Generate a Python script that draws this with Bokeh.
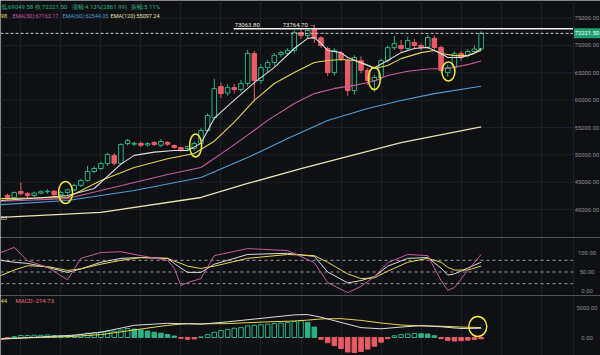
from bokeh.plotting import figure
from bokeh.layouts import column
from bokeh.models import Range1d, Label, Span, Grid, FixedTicker
from bokeh.embed import file_html
from bokeh.resources import INLINE

# ---------------- data ----------------
opens = [42600, 42200, 43300, 42900, 42550, 43000, 43250, 43350, 42700, 43100,
         43600, 44400, 45300, 46950, 47500, 48400, 49900, 48450, 52050, 51950,
         52100, 51800, 52250, 51750, 52300, 51700, 51350, 51150, 51200, 52100,
         54450, 56800, 62500, 61300, 62300, 61950, 63050, 68550, 63600, 65950,
         66900, 68350, 68550, 69100, 72400, 71800, 73100, 71400, 69450, 65050,
         68550, 67250, 61750, 67200, 65450, 63600, 64150, 67250, 69600, 70000,
         69450, 70550, 70000, 69650, 71300, 69650, 65050, 66000, 68550, 68200,
         68900, 69359.51]
closes = [42200, 43100, 42900, 42550, 43000, 43250, 43350, 42700, 43100, 43600,
          44400, 45300, 46950, 47500, 48400, 50050, 48450, 51900, 52600, 52100,
          51750, 52050, 51900, 52450, 51950, 51350, 50800, 51500, 52050, 54450,
          57200, 62100, 61200, 62300, 61950, 63050, 68550, 63600, 65950, 66900,
          68200, 68700, 69100, 72400, 71800, 72750, 71300, 70000, 65050, 69100,
          67600, 61750, 67800, 65450, 63600, 64150, 67250, 69600, 70350, 69450,
          70900, 70000, 69650, 71450, 69650, 65450, 65950, 68500, 67800, 68900,
          69359.51, 72221.50]
highs = [42900, 43300, 44950, 43200, 43300, 43500, 43700, 43500, 43400, 43800,
         44700, 45600, 48000, 47900, 48800, 50400, 50300, 52100, 52900, 52400,
         52400, 52300, 52500, 52900, 52500, 51900, 51500, 51700, 52400, 54900,
         57600, 63900, 63200, 62900, 63000, 63700, 69200, 69000, 66600, 67300,
         68600, 69000, 69500, 72800, 73000, 73100, 73764.70, 71700, 69800, 69500,
         69000, 67600, 68200, 68000, 65900, 64700, 67600, 70000, 71800, 71000,
         71600, 71200, 70400, 71900, 71800, 70000, 66500, 68900, 69000, 69300,
         70000, 72594]
lows = [41800, 41900, 42600, 42100, 42300, 42800, 42900, 42400, 42300, 42800,
        43300, 44100, 45100, 46600, 47200, 48000, 48000, 48200, 51700, 51600,
        51400, 51500, 51600, 51400, 51600, 51100, 50500, 50900, 50800, 52000,
        54200, 56500, 60400, 60800, 61200, 61500, 62500, 59950, 63000, 65200,
        66300, 67900, 68100, 68700, 71200, 71300, 70500, 69600, 64400, 64500,
        67200, 60800, 61000, 64900, 62800, 61500, 63800, 66900, 69200, 68900,
        69000, 69500, 69100, 69300, 69200, 65000, 64300, 65500, 67200, 67800,
        68500, 69049.58]

# moving averages (candle index, value)
ema_fast_i = [-1, 4, 9, 13, 17, 19, 22, 25, 27, 29, 31, 34, 37, 40, 43, 45, 46, 47, 48,
              50, 51, 53, 55, 57, 59, 61, 63, 65, 66, 68, 70, 71]
ema_fast_v = [41650, 42050, 42550, 43850, 48300, 49900, 50500, 50800, 50800, 52100,
              56700, 60000, 63200, 66000, 69450, 71300, 71450, 70400, 69100, 68700,
              67800, 66900, 65950, 67250, 68700, 69450, 69650, 68550, 67800, 67800,
              68550, 69450]
ema15_i = [-1, 4, 9, 14, 19, 24, 28, 31, 34, 37, 40, 43, 46, 48, 50, 52, 54, 55, 57,
           59, 62, 64, 65, 67, 69, 71]
ema15_v = [42000, 42100, 42200, 45300, 47700, 49300, 50250, 52500, 56000, 59950,
           63050, 65050, 66900, 67250, 67450, 67250, 66350, 65800, 66350, 67600,
           68700, 69100, 68550, 68150, 68150, 69100]
ema30_i = [-1, 9, 19, 24, 29, 33, 36, 39, 43, 46, 49, 52, 55, 57, 60, 63, 66, 69, 71]
ema30_v = [41500, 42000, 44950, 46400, 47700, 51000, 53600, 56300, 59400, 61200,
           62150, 62700, 63500, 64500, 65300, 65700, 65800, 66500, 67163.17]
ema60_i = [-1, 9, 19, 29, 36, 42, 48, 54, 59, 64, 71]
ema60_v = [40900, 41650, 43480, 45850, 49500, 53000, 56300, 58480, 59950, 61200, 62544.05]
ema120_i = [-1, 14, 29, 36, 44, 59, 71]
ema120_v = [38550, 39460, 42200, 44760, 47500, 52250, 55097.24]

# KDJ
kdj_i = [-1, 1, 3, 6, 9, 11, 14, 17, 20, 24, 25, 26, 27, 29, 31, 36, 42, 46, 48, 51,
         53, 55, 57, 60, 63, 65, 66, 67, 69, 71]
k_v = [80, 75, 72, 62, 49, 58, 75, 85, 87, 85, 72, 60, 49, 49, 70, 95, 98, 90, 50, 22,
       28, 38, 65, 85, 87, 60, 42, 45, 60, 75]
d_v = [41, 55, 66, 64, 54, 58, 70, 80, 87, 85, 78, 72, 65, 59, 65, 85, 95, 92, 75, 45,
       33, 35, 52, 75, 85, 75, 62, 55, 55, 65]
j_v = [100, 113, 79, 62, 30, 85, 100, 102, 92, 80, 60, 15, 23, 33, 92, 110, 105, 74,
       23, -3, 13, 38, 74, 95, 92, 28, 3, 10, 54, 95]

# MACD
macd_i = [-1, 5, 10, 14, 19, 24, 27, 29, 33, 38, 43, 45, 47, 50, 53, 56, 59, 62, 65,
          68, 71]
dif_v = [-300, 100, 400, 900, 2100, 2450, 2350, 2300, 2700, 3300, 3900, 3950, 3500,
         2600, 1700, 1500, 1800, 2050, 1850, 1550, 1600]
dea_v = [-200, 0, 200, 500, 1300, 2100, 2400, 2350, 2400, 2650, 2850, 3000, 3200,
         3250, 2950, 2500, 2150, 2000, 1950, 1800, 1707]
hist = [-150, 150, 350, 350, 400, 400, 450, 350, 300, 300, 400, 550, 750, 850, 950,
        1100, 1100, 1300, 1550, 1450, 1300, 1100, 900, 750, 500, 250, -150, -300, -250,
        100, 500, 900, 1200, 1400, 1600, 1700, 2000, 2100, 2200, 2300, 2400, 2500,
        2600, 2750, 2900, 2600, 1800, -300, -900, -1400, -1900, -2500, -2600, -2400,
        -2000, -1500, -800, -200, 300, 500, 600, 700, 650, 600, 300, -200, -500, -600,
        -550, -450, -350, -214.73]

main_ticks = [40000, 45000, 50000, 55000, 60000, 65000, 70000, 75000]
kdj_ticks = [0, 50, 100]
kdj_levels = [20, 50, 80]
macd_ticks = [0, 5000]

last_close = 72221.50
level_line = 73063.80
top_high = 73764.70
top_idx = 46
ring_i = [8.7, 28.2, 55.0, 66.1]
ring_p = [43114, 51710, 63964, 65245]
macd_ring_i = [70.5]
macd_ring_v = [1897]

# ---------------- style ----------------
BG = "#0f1014"
GRID = "#1d2027"
GREEN = "#2bb383"
RED = "#ea5b66"
C_FAST = "#dcdcdc"
C_15 = "#e8d44d"
C_30 = "#c65aa6"
C_60 = "#4d9fd6"
C_120 = "#e4e3b0"
TXT = "#8b8f98"
HDR = "#2fb07f"
FONT = "Roboto"
FS = "6px"
AXFS = "5.8px"

W = 600
H1, H2, H3 = 237, 58, 60
XL, XR = -1.05, 88.9
BORDER = 84.85
xr = Range1d(XL, XR)


def base(h, y0, y1):
    p = figure(width=W, height=h, x_range=xr, y_range=Range1d(y0, y1),
               output_backend="svg", toolbar_location=None,
               x_axis_location=None, y_axis_location=None, min_border=0)
    p.background_fill_color = BG
    p.border_fill_color = BG
    p.outline_line_color = None
    p.grid.visible = False
    g = Grid(dimension=0, ticker=FixedTicker(ticks=list(range(2, 81, 6))),
             grid_line_color=GRID, grid_line_width=1)
    p.add_layout(g, "center")
    p.add_layout(Span(location=BORDER, dimension="height", line_color=GRID, line_width=1))
    return p


def right_labels(p, ticks, fmt="{:.2f}"):
    for t in ticks:
        p.add_layout(Label(x=586.5, x_units="screen", y=t, y_units="data",
                           text=fmt.format(t), text_color=TXT, text_font=FONT,
                           text_font_size=AXFS, text_align="center", text_baseline="middle"))


def screen_text(p, h, x, ytop, text, color, size=FS, align="left"):
    p.add_layout(Label(x=x, y=h - ytop, x_units="screen", y_units="screen", text=text,
                       text_color=color, text_font=FONT, text_font_size=size,
                       text_align=align, text_baseline="middle"))


# ---------------- main panel ----------------
p1 = base(H1, 34883, 78230)
p1.segment(x0=[XL] * len(main_ticks), x1=[BORDER] * len(main_ticks),
           y0=main_ticks, y1=main_ticks, line_color=GRID, line_width=1)

idx = list(range(len(closes)))
up = [c >= o for o, c in zip(opens, closes)]
tops = [max(o, c) for o, c in zip(opens, closes)]
bots = [min(o, c) for o, c in zip(opens, closes)]
col = [GREEN if u else RED for u in up]
fill = [BG if u else RED for u in up]
p1.segment(x0=idx, x1=idx, y0=highs, y1=lows, line_color=col, line_width=1)
p1.vbar(x=idx, width=0.68, top=tops, bottom=bots, fill_color=fill, line_color=col,
        line_width=1)

p1.line(ema120_i, ema120_v, line_color=C_120, line_width=1.3)
p1.line(ema60_i, ema60_v, line_color=C_60, line_width=1.1)
p1.line(ema30_i, ema30_v, line_color=C_30, line_width=1.1)
p1.line(ema15_i, ema15_v, line_color=C_15, line_width=1.1)
p1.line(ema_fast_i, ema_fast_v, line_color=C_FAST, line_width=1.1)

# price levels
p1.segment(x0=[33.9], x1=[BORDER], y0=[level_line], y1=[level_line], line_color="#f2f2f2",
           line_width=1.5)
p1.segment(x0=[XL], x1=[BORDER], y0=[last_close], y1=[last_close], line_color="#c8ccd2",
           line_width=1, line_dash="3 2")
p1.add_layout(Label(x=33.9, y=level_line, text=f"{level_line:.2f}", text_color="#e8e8e8",
                    text_font=FONT, text_font_size=FS, text_baseline="bottom",
                    y_offset=2, x_offset=1))
p1.add_layout(Label(x=top_idx, y=top_high, text=f"{top_high:.2f} \u2192", text_color="#e8e8e8",
                    text_font=FONT, text_font_size=FS, text_baseline="middle",
                    text_align="right", x_offset=1))
# current-price tag on the price scale
p1.rect(x=[(BORDER + XR) / 2], y=[last_close], width=[XR - BORDER], height=[10],
        height_units="screen", fill_color="#1f9e72", line_color=None)
p1.add_layout(Label(x=586.5, x_units="screen", y=last_close, text=f"{last_close:.2f}",
                    text_color="#ffffff", text_font=FONT, text_font_size=AXFS,
                    text_baseline="middle", text_align="center"))
p1.ellipse(x=ring_i, y=ring_p, width=[14, 12, 12, 13], height=[22, 23, 22, 19],
           width_units="screen", height_units="screen", fill_color=None,
           line_color="#f3e63c", line_width=1.5)
right_labels(p1, main_ticks)

# header line 1
screen_text(p1, H1, 0, 5.5, "低:69049.58", HDR)
screen_text(p1, H1, 34, 5.5, "收:72221.50", HDR)
screen_text(p1, H1, 71, 5.5, "涨幅:4.13%(2861.99)", HDR)
screen_text(p1, H1, 130, 5.5, "振幅:5.11%", HDR)
# header line 2
screen_text(p1, H1, 0, 15, "98", C_15)
screen_text(p1, H1, 12, 15, "EMA(30):67163.17", C_30, size="5.5px")
screen_text(p1, H1, 62, 15, "EMA(60):62544.05", C_60, size="5.5px")
screen_text(p1, H1, 110, 15, "EMA(120):55097.24", C_120, size="5.5px")
screen_text(p1, H1, 0, 217, "03", "#cfcfcf")

# ---------------- KDJ panel ----------------
p2 = base(H2, -10.3, 138.5)
p2.add_layout(Span(location=138.5, dimension="width", line_color=GRID, line_width=1))
p2.segment(x0=[XL] * 3, x1=[BORDER] * 3, y0=kdj_levels, y1=kdj_levels,
           line_color="#9a9ea6", line_width=1, line_dash="3 3")
p2.line(kdj_i, k_v, line_color=C_FAST, line_width=1)
p2.line(kdj_i, d_v, line_color=C_15, line_width=1)
p2.line(kdj_i, j_v, line_color=C_30, line_width=1)
right_labels(p2, kdj_ticks)

# ---------------- MACD panel ----------------
p3 = base(H3, -3103, 7241)
p3.add_layout(Span(location=7241, dimension="width", line_color=GRID, line_width=1))
rising = [True] + [abs(hist[i]) >= abs(hist[i - 1]) for i in range(1, len(hist))]
hcol = [GREEN if h >= 0 else RED for h in hist]
hfill = [BG if (r and h >= 0) else (GREEN if h >= 0 else RED) for r, h in zip(rising, hist)]
p3.vbar(x=idx, width=0.68, top=hist, bottom=0, fill_color=hfill, line_color=hcol, line_width=1)
p3.line(macd_i, dea_v, line_color=C_15, line_width=1)
p3.line(macd_i, dif_v, line_color=C_FAST, line_width=1)
p3.ellipse(x=macd_ring_i, y=macd_ring_v, width=[18], height=[20], width_units="screen",
           height_units="screen", fill_color=None, line_color="#f3e63c", line_width=1.5)
right_labels(p3, macd_ticks)
screen_text(p3, H3, 0, 5, "44", C_15)
screen_text(p3, H3, 15, 5, "MACD:-214.73", "#e8707a")

layout = column(p1, p2, p3, spacing=0)
open("out.html", "w").write(file_html(layout, INLINE))
